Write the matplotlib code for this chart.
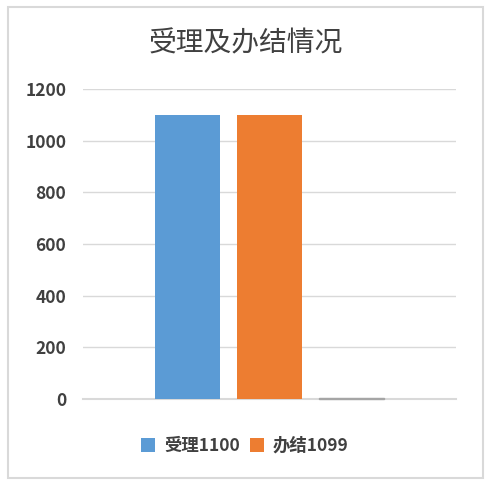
import matplotlib
matplotlib.use("Agg")
import matplotlib.pyplot as plt
from matplotlib.patches import Rectangle

plt.rcParams['font.family'] = ['Noto Sans CJK SC', 'DejaVu Sans']

title = "受理及办结情况"
series_labels = ["受理1100", "办结1099", ""]
values = [1100, 1099, 4]
colors = ["#5B9BD5", "#ED7D31", "#A5A5A5"]
yticks = [0, 200, 400, 600, 800, 1000, 1200]

W, H = 492, 487
fig = plt.figure(figsize=(W/100, H/100), dpi=100)
fig.patch.set_facecolor("white")

# outer border
fig.add_artist(Rectangle((8/W, 1-478/H), (483-8)/W, (478-7)/H, transform=fig.transFigure,
                         fill=False, edgecolor="#D9D9D9", linewidth=1.5))

ax = fig.add_axes([83/W, 1-399/H, (456-83)/W, (399-89)/H])
x = [0, 1, 2]
bw = 65/82
for xi, v, c, lab in zip(x, values, colors, series_labels):
    ax.bar(xi, v, bottom=0, width=bw, color=c, edgecolor=c if v < 10 else "none", linewidth=1.0,
           label=lab if lab else None, zorder=3, clip_on=False)
half = 373/82/2
ax.set_xlim(1-half, 1+half)
ax.set_ylim(0, 1200)
ax.set_yticks(yticks)
ax.set_yticklabels([str(t) for t in yticks], fontsize=12.5, color="#404040", fontweight="bold")
ax.set_xticks([])
ax.grid(axis="y", color="#D9D9D9", linewidth=1, zorder=0)
for s in ["top", "right", "left"]:
    ax.spines[s].set_visible(False)
ax.spines["bottom"].set_color("#D9D9D9")
ax.spines["bottom"].set_linewidth(1.5)
ax.spines["bottom"].set_zorder(2)
ax.tick_params(axis="y", length=0, pad=12)

fig.text(0.5, 1-43/H, title, ha="center", va="center", fontsize=20, color="#404040")

leg = fig.legend(loc="center", bbox_to_anchor=(245/W, 1-446/H), ncol=2, frameon=False,
                 fontsize=12.5, handlelength=0.8, handleheight=0.8, handletextpad=0.5,
                 columnspacing=0.6)
for t in leg.get_texts():
    t.set_color("#404040")
    t.set_fontweight("bold")

fig.savefig("out.png", dpi=100)
